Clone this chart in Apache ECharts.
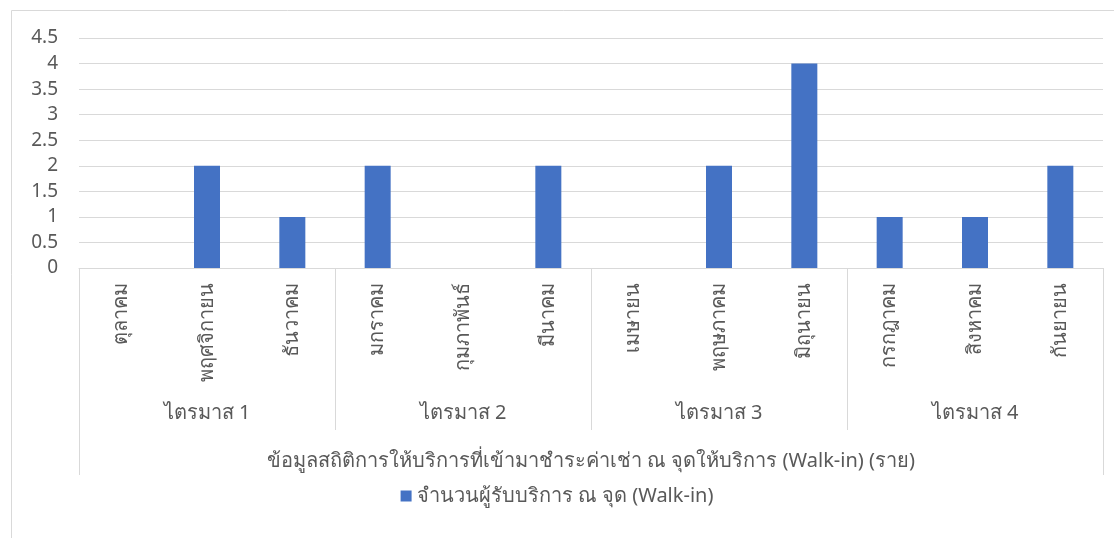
<!DOCTYPE html>
<html>
<head>
<meta charset="utf-8">
<style>
  html, body { margin: 0; padding: 0; background: #fff; }
  #chart { width: 1114px; height: 538px; }
</style>
<script src="https://cdn.jsdelivr.net/npm/echarts@6/dist/echarts.min.js"></script>
</head>
<body>
<div id="chart"></div>
<script>
// ข้อมูล
const months = ['ตุลาคม', 'พฤศจิกายน', 'ธันวาคม', 'มกราคม', 'กุมภาพันธ์', 'มีนาคม',
  'เมษายน', 'พฤษภาคม', 'มิถุนายน', 'กรกฎาคม', 'สิงหาคม', 'กันยายน']
const quarters = ['ไตรมาส 1', 'ไตรมาส 2', 'ไตรมาส 3', 'ไตรมาส 4']
const groupTitle = ['ข้อมูลสถิติการให้บริการที่เข้ามาชำระค่าเช่า ณ จุดให้บริการ (Walk-in) (ราย)']
const seriesName = 'จำนวนผู้รับบริการ ณ จุด (Walk-in)'
const walkIn = [0, 2, 1, 2, 0, 2, 0, 2, 4, 1, 1, 2]

const font = '"Noto Sans", "Open Sans", sans-serif'
const textColor = '#595959'
const lineColor = '#d9d9d9'

const myChart = echarts.init(document.getElementById('chart'))

const option = {
  textStyle: { fontFamily: font },
  graphic: [
    {
      type: 'rect',
      shape: { x: 11.5, y: 10.5, width: 1130, height: 560 },
      style: { fill: 'none', stroke: lineColor, lineWidth: 1 },
      silent: true,
    },
  ],
  grid: { left: 79, right: 11, top: 38, bottom: 270 },
  legend: {
    top: 481,
    left: 'center',
    icon: 'rect',
    itemWidth: 11,
    itemHeight: 11,
    itemGap: 6,
    textStyle: { color: textColor, fontSize: 20, fontFamily: font },
    data: [seriesName],
  },
  xAxis: [
    {
      type: 'category',
      data: months,
      axisLine: { show: false },
      axisTick: { show: false },
      axisLabel: {
        rotate: 90,
        interval: 0,
        margin: 15,
        color: textColor,
        fontSize: 20,
        fontFamily: font,
      },
    },
    {
      type: 'category',
      data: quarters,
      position: 'bottom',
      axisLine: { show: true, lineStyle: { color: lineColor } },
      axisTick: { show: true, length: 162, lineStyle: { color: lineColor } },
      axisLabel: {
        interval: 0,
        margin: 135,
        color: textColor,
        fontSize: 20,
        fontFamily: font,
      },
    },
    {
      type: 'category',
      data: groupTitle,
      position: 'bottom',
      axisLine: { show: false },
      axisTick: { show: true, length: 207, lineStyle: { color: lineColor } },
      axisLabel: {
        interval: 0,
        margin: 183,
        color: textColor,
        fontSize: 20,
        fontFamily: font,
      },
    },
  ],
  yAxis: {
    type: 'value',
    min: 0,
    max: 4.5,
    interval: 0.5,
    axisLine: { show: false },
    axisTick: { show: false },
    axisLabel: { color: textColor, fontSize: 19, margin: 21, fontFamily: font },
    splitLine: { lineStyle: { color: lineColor, width: 1 } },
  },
  series: [
    {
      name: seriesName,
      type: 'bar',
      xAxisIndex: 0,
      data: walkIn,
      barWidth: 26,
      itemStyle: { color: '#4472C4' },
    },
  ],
}

myChart.setOption(option)
</script>
</body>
</html>
